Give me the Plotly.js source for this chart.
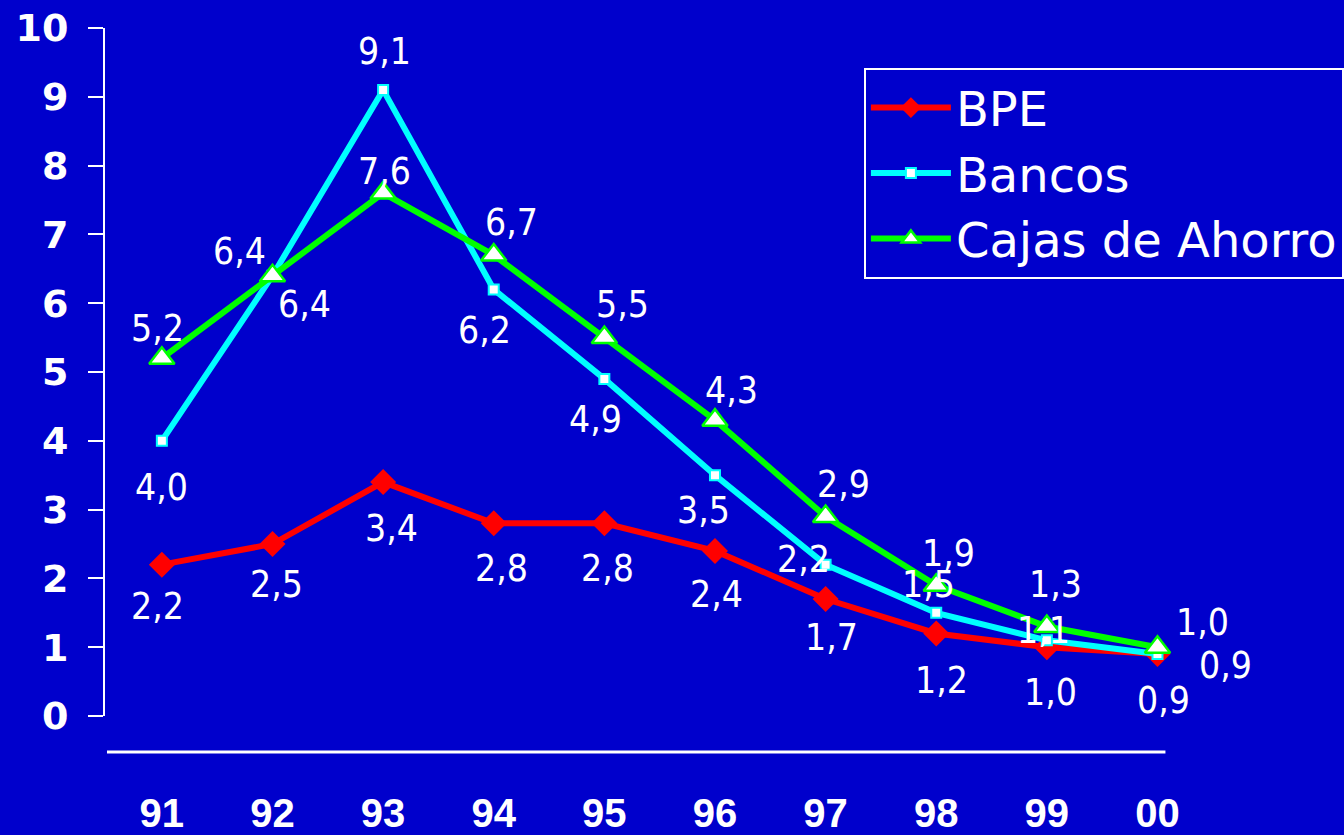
<!DOCTYPE html>
<html>
<head>
<meta charset="utf-8">
<script src="https://cdn.plot.ly/plotly-3.0.1.min.js"></script>
<style>
html,body{margin:0;padding:0;background:#0000CC;overflow:hidden;}
#chart{width:1344px;height:835px;}
.annotation-text{font-stretch:condensed;}
.xtick text{font-stretch:condensed;}
</style>
</head>
<body>
<div id="chart"></div>
<script>
// ---- data ----
var years = ["91","92","93","94","95","96","97","98","99","00"];
var bpe    = [2.2, 2.5, 3.4, 2.8, 2.8, 2.4, 1.7, 1.2, 1.0, 0.9];
var bancos = [4.0, 6.4, 9.1, 6.2, 4.9, 3.5, 2.2, 1.5, 1.1, 0.9];
var cajas  = [5.2, 6.4, 7.6, 6.7, 5.5, 4.3, 2.9, 1.9, 1.3, 1.0];
var yTicks = [0,1,2,3,4,5,6,7,8,9,10];

// ---- label offsets (px) ----
var bpeOff    = [[-4,-42],[4,-40],[8,-46],[8,-45],[3,-45],[2,-44],[6,-38],[5,-47],[4,-45],[6,-46]];
var bancosOff = [[0,-47],[32,-29],[1,38],[-9,-41],[-9,-41],[-11,-35],[-22,5],[-8,28],[-3,10],[68,-11]];
var cajasOff  = [[-4,30],[-33,24],[1,22],[18,33],[18,33],[17,30],[18,32],[12,32],[9,42],[45,25]];

var xIdx = years.map(function(_, i){ return i; });
function fmt(v){ return v.toFixed(1).replace('.', ','); }

var traces = [
  {x: xIdx, y: bpe, name: 'BPE', mode: 'lines+markers', cliponaxis: false, legendgroup: 'a',
   line: {color: '#FF0000', width: 6},
   marker: {symbol: 'diamond', size: 20, color: '#FF0000', line: {width: 0}}},
  {x: xIdx, y: bancos, name: 'Bancos', mode: 'lines+markers', cliponaxis: false, legendgroup: 'b',
   line: {color: '#00FFFF', width: 6},
   marker: {symbol: 'square', size: 10, color: '#FFFFFF', line: {color: '#00FFFF', width: 2}}},
  {x: xIdx, y: cajas, name: 'Cajas de Ahorro', mode: 'lines+markers', cliponaxis: false, legendgroup: 'c',
   line: {color: '#00FF00', width: 6},
   marker: {symbol: 'triangle-up', size: 22, color: '#FFFFFF', line: {color: '#00FF00', width: 2.5}}}
];

var annotations = [];
function addLabels(vals, offs){
  vals.forEach(function(v, i){
    annotations.push({x: i, y: v, xref: 'x', yref: 'y', text: fmt(v), showarrow: false,
      xshift: offs[i][0], yshift: offs[i][1],
      font: {family: '"Liberation Sans Narrow", "DejaVu Sans Condensed", "DejaVu Sans", sans-serif', size: 37, color: '#FFFFFF'}});
  });
}
addLabels(bpe, bpeOff);
addLabels(bancos, bancosOff);
addLabels(cajas, cajasOff);

var layout = {
  width: 1344, height: 835,
  paper_bgcolor: '#0000CC', plot_bgcolor: '#0000CC',
  margin: {l: 105, r: 0, t: 28, b: 119},
  showlegend: true,
  legend: {x: 0.614, y: 0.942, xanchor: 'left', yanchor: 'top',
    bgcolor: '#0000CC', bordercolor: '#FFFFFF', borderwidth: 2,
    traceorder: 'grouped', tracegroupgap: 0, itemwidth: 80,
    font: {family: '"DejaVu Sans", Verdana, sans-serif', size: 48, color: '#FFFFFF'}},
  xaxis: {range: [-0.514, 10.659], tickvals: xIdx, ticktext: years,
    showline: false, showgrid: false, zeroline: false, ticks: '',
    ticklabelstandoff: 70,
    tickfont: {family: '"Liberation Sans Narrow", "Liberation Sans", Arial, sans-serif', size: 40, color: '#FFFFFF', weight: 'bold'}},
  yaxis: {range: [0, 10], tickvals: yTicks, ticktext: yTicks.map(String),
    showline: true, linecolor: '#FFFFFF', linewidth: 2, mirror: false,
    ticks: 'outside', ticklen: 15, tickwidth: 2, tickcolor: '#FFFFFF',
    showgrid: false, zeroline: false, ticklabelstandoff: 12,
    tickfont: {family: '"DejaVu Sans", Verdana, sans-serif', size: 38, color: '#FFFFFF', weight: 'bold'}},
  shapes: [{type: 'line', xref: 'x', yref: 'paper', x0: -0.496, x1: 9.072, y0: -0.0523, y1: -0.0523,
    line: {color: '#FFFFFF', width: 3}}],
  annotations: annotations
};

Plotly.newPlot('chart', traces, layout, {displayModeBar: false, staticPlot: true});
</script>
</body>
</html>
